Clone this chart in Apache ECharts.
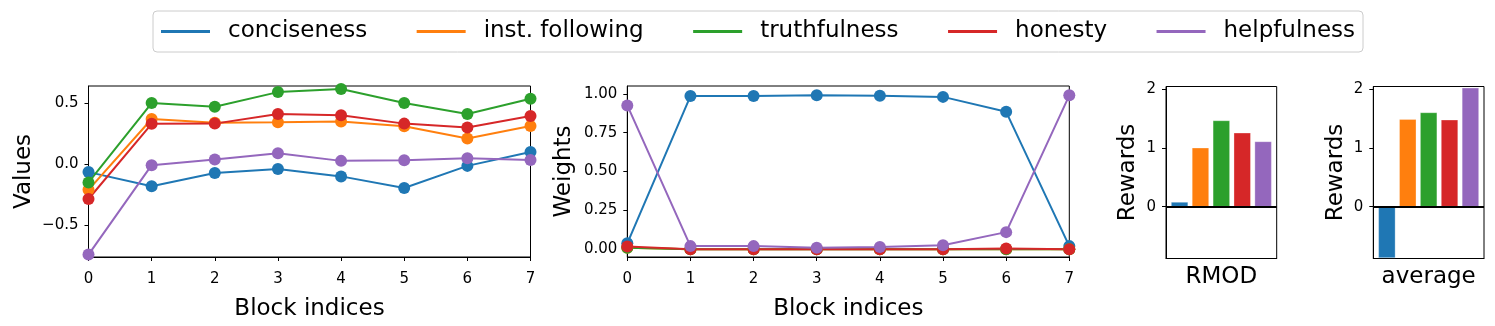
<!DOCTYPE html>
<html>
<head>
<meta charset="utf-8">
<script src="https://cdn.jsdelivr.net/npm/echarts@6/dist/echarts.min.js"></script>
<style>
html,body{margin:0;padding:0;background:#fff;}
#main{width:1495px;height:326px;}
</style>
</head>
<body>
<div id="main"></div>
<script>
// data
var names = ['conciseness', 'inst. following', 'truthfulness', 'honesty', 'helpfulness'];
var colors = ['#1f77b4', '#ff7f0e', '#2ca02c', '#d62728', '#9467bd'];
var blocks = [0, 1, 2, 3, 4, 5, 6, 7];

// left panel: Values
var valConciseness = [-0.065, -0.18, -0.073, -0.04, -0.10, -0.195, -0.014, 0.10];
var valInstFollowing = [-0.21, 0.37, 0.34, 0.343, 0.35, 0.31, 0.21, 0.313];
var valTruthfulness = [-0.15, 0.50, 0.47, 0.59, 0.616, 0.50, 0.41, 0.535];
var valHonesty = [-0.285, 0.33, 0.332, 0.41, 0.40, 0.332, 0.30, 0.394];
var valHelpfulness = [-0.74, -0.008, 0.038, 0.09, 0.027, 0.032, 0.049, 0.035];

// middle panel: Weights
var wConciseness = [0.038, 0.985, 0.985, 0.99, 0.987, 0.98, 0.884, 0.02];
var wInstFollowing = [0.01, 0.0, 0.0, 0.0, 0.0, 0.0, 0.0, 0.0];
var wTruthfulness = [0.01, 0.0, 0.0, 0.0, 0.0, 0.0, 0.0, 0.0];
var wHonesty = [0.017, 0.0, 0.0, 0.0, 0.0, 0.0, 0.005, 0.0];
var wHelpfulness = [0.925, 0.02, 0.02, 0.01, 0.015, 0.025, 0.11, 0.99];

// bar panels: Rewards
var rewardsRMOD = [0.079, 1.0, 1.463, 1.254, 1.107];
var rewardsAverage = [-0.87, 1.486, 1.599, 1.475, 2.017];

var valueTicks = [-0.5, 0, 0.5];
var weightTicks = [0, 0.25, 0.5, 0.75, 1];
var rewardTicks = [0, 1, 2];

var FONT = 'DejaVu Sans';
var chart = echarts.init(document.getElementById('main'), null, {renderer: 'canvas'});

function pairs(xs, ys) {
	var out = [];
	for (var i = 0; i < xs.length; i++) {
		out.push([xs[i], ys[i]]);
	}
	return out;
}

function minusFmt(digits) {
	return function(v) {
		var s = Math.abs(v).toFixed(digits);
		return v < 0 ? '\u2212' + s : s;
	};
}

var axisLineBlack = {show: true, onZero: false, lineStyle: {color: '#000', width: 1}};

function valueAxis(grid, min, max, ticks, fmt, name, gap) {
	return {
		type: 'value', gridIndex: grid, min: min, max: max,
		name: name, nameLocation: 'middle', nameGap: gap,
		nameTextStyle: {fontFamily: FONT, fontSize: 23, color: '#000'},
		axisLine: axisLineBlack,
		axisTick: {show: true, inside: false, length: 4, customValues: ticks, lineStyle: {color: '#000', width: 1}},
		axisLabel: {show: true, customValues: ticks, formatter: fmt, margin: 10,
			fontFamily: FONT, fontSize: 15, color: '#000'},
		splitLine: {show: false}
	};
}

function blockAxis(grid) {
	return {
		type: 'value', gridIndex: grid, min: 0, max: 7, interval: 1,
		name: 'Block indices', nameLocation: 'middle', nameGap: 41,
		nameTextStyle: {fontFamily: FONT, fontSize: 23, color: '#000'},
		axisLine: axisLineBlack,
		axisTick: {show: true, inside: false, length: 4, lineStyle: {color: '#000', width: 1}},
		axisLabel: {margin: 15, fontFamily: FONT, fontSize: 15, color: '#000'},
		splitLine: {show: false}
	};
}

function barAxis(grid, name) {
	return {
		type: 'value', gridIndex: grid, min: -0.65, max: 4.65,
		name: name, nameLocation: 'middle', nameGap: 7,
		nameTextStyle: {fontFamily: FONT, fontSize: 23, color: '#000', verticalAlign: 'top'},
		axisLine: axisLineBlack, axisTick: {show: false}, axisLabel: {show: false},
		splitLine: {show: false}
	};
}

function lineSeries(idx, grid, ys) {
	return {
		name: names[idx], type: 'line', xAxisIndex: grid, yAxisIndex: grid,
		data: pairs(blocks, ys), clip: true,
		symbol: 'circle', symbolSize: 12,
		itemStyle: {color: colors[idx]},
		lineStyle: {color: colors[idx], width: 2},
		emphasis: {disabled: true}
	};
}

function barSeries(grid, ys) {
	var data = [];
	for (var i = 0; i < ys.length; i++) {
		data.push({value: [i, ys[i]], itemStyle: {color: colors[i]}});
	}
	return {
		type: 'bar', xAxisIndex: grid, yAxisIndex: grid, barWidth: 17,
		data: data,
		itemStyle: {borderColor: 'rgba(255,255,255,0.6)', borderWidth: 0.5},
		markLine: {
			silent: true, symbol: 'none', animation: false,
			label: {show: false},
			lineStyle: {color: '#000', width: 2, type: 'solid'},
			data: [{yAxis: 0}]
		}
	};
}

var gridBase = {show: true, borderColor: '#000', borderWidth: 1, backgroundColor: 'transparent', containLabel: false};

var option = {
	animation: false,
	backgroundColor: '#fff',
	legend: {
		data: names, left: 153, top: 11,
		icon: 'rect', itemWidth: 49, itemHeight: 3, itemGap: 49.5,
		padding: [9, 8, 9, 8],
		borderColor: '#cccccc', borderWidth: 1, borderRadius: 4,
		textStyle: {fontFamily: FONT, fontSize: 23, color: '#000', padding: [0, 0, 0, 13]}
	},
	grid: [
		Object.assign({left: 88.5, top: 86, width: 442, height: 173}, gridBase),
		Object.assign({left: 627.3, top: 86, width: 442, height: 173}, gridBase),
		Object.assign({left: 1166, top: 86.5, width: 110.7, height: 172}, gridBase),
		Object.assign({left: 1373.3, top: 86.5, width: 110.7, height: 172}, gridBase)
	],
	xAxis: [
		blockAxis(0),
		blockAxis(1),
		barAxis(2, 'RMOD'),
		barAxis(3, 'average')
	],
	yAxis: [
		valueAxis(0, -0.76, 0.64, valueTicks, minusFmt(1), 'Values', 53),
		valueAxis(1, -0.05, 1.05, weightTicks, minusFmt(2), 'Weights', 52),
		valueAxis(2, -0.88, 2.04, rewardTicks, minusFmt(0), 'Rewards', 26),
		valueAxis(3, -0.88, 2.04, rewardTicks, minusFmt(0), 'Rewards', 26)
	],
	series: [
		lineSeries(0, 0, valConciseness),
		lineSeries(1, 0, valInstFollowing),
		lineSeries(2, 0, valTruthfulness),
		lineSeries(3, 0, valHonesty),
		lineSeries(4, 0, valHelpfulness),
		lineSeries(0, 1, wConciseness),
		lineSeries(1, 1, wInstFollowing),
		lineSeries(2, 1, wTruthfulness),
		lineSeries(3, 1, wHonesty),
		lineSeries(4, 1, wHelpfulness),
		barSeries(2, rewardsRMOD),
		barSeries(3, rewardsAverage)
	]
};

chart.setOption(option);
</script>
</body>
</html>
